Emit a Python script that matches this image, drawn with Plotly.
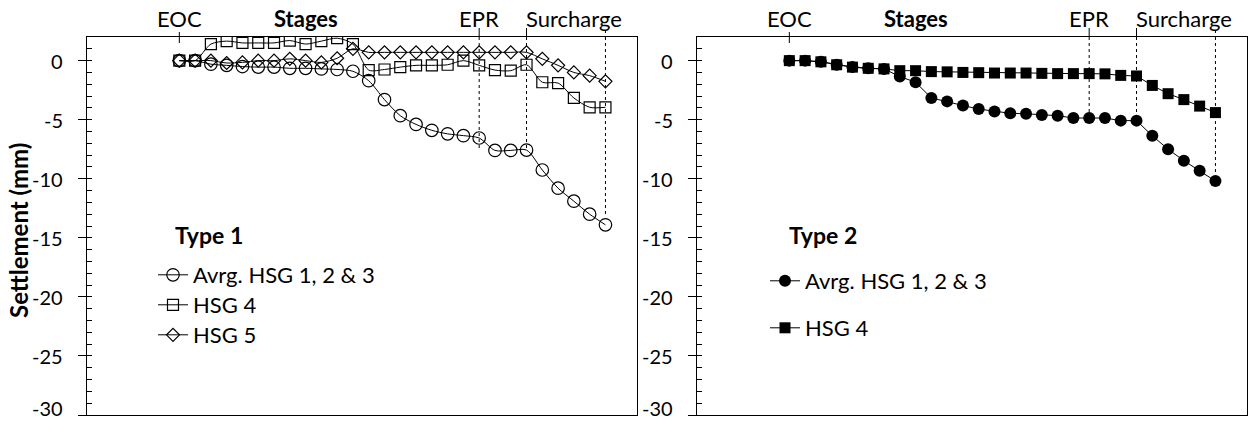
import plotly.graph_objects as go

# ---------------- data ----------------
stage = list(range(28))

t1_avrg = [0, 0, -0.3, -0.4, -0.5, -0.55, -0.55, -0.65, -0.65, -0.7, -0.75, -0.9, -1.7, -3.3,
           -4.66, -5.4, -5.9, -6.2, -6.35, -6.55, -7.6, -7.6, -7.57, -9.26, -10.8, -11.9, -13.0, -13.9]
t1_hsg4 = [0, 0, 1.4, 1.65, 1.5, 1.5, 1.5, 1.7, 1.4, 1.65, 1.9, 1.4, -0.8, -0.75,
           -0.55, -0.4, -0.4, -0.35, 0.0, -0.4, -0.8, -0.85, -0.35, -1.83, -1.9, -3.16, -3.95, -3.95]
t1_hsg5 = [0, 0, 0, -0.2, -0.15, 0, 0, 0.15, 0, -0.15, 0.2, 1.0, 0.7, 0.7,
           0.7, 0.7, 0.7, 0.7, 0.7, 0.7, 0.7, 0.7, 0.7, 0.15, -0.4, -1.0, -1.27, -1.75]

t2_avrg = [0, 0, -0.1, -0.35, -0.55, -0.65, -0.7, -1.35, -1.83, -3.16, -3.45, -3.8, -4.1, -4.3,
           -4.46, -4.5, -4.6, -4.66, -4.86, -4.86, -4.86, -5.08, -5.08, -6.36, -7.5, -8.47, -9.32, -10.2]
t2_hsg4 = [0, 0, -0.1, -0.35, -0.55, -0.65, -0.7, -0.85, -0.85, -0.93, -0.95, -1.0, -1.02, -1.05,
           -1.05, -1.05, -1.08, -1.1, -1.1, -1.1, -1.12, -1.25, -1.3, -2.1, -2.8, -3.3, -3.85, -4.4]

series_names = ["Avrg. HSG 1, 2 & 3", "HSG 4", "HSG 5"]

ytick_vals = [0, -5, -10, -15, -20, -25, -30]
ytick_text = ["0", "-5", "-10", "-15", "-20", "-25", "-30"]

stage_eoc = 0
stage_lines = [19, 22, 27]          # EPR, Surcharge, end of surcharge
left_drop = [-7.5, -7.6, -13.0]
right_drop = [-4.9, -5.1, -9.5]
top_labels = ["EOC", "<b>Stages</b>", "EPR", "Surcharge"]
top_label_x = [0, 8, 19, 25]

# ---------------- layout helpers ----------------
W, H = 1248, 423
FONT = "Lato, sans-serif"


def px(x):
    return x / W


def py(y):
    return 1 - y / H


XR = [-5.85, 29.0]
YR = [-30, 2]
XD1 = [px(87), px(637)]
XD2 = [px(697), px(1247)]
YD = [py(415), py(37)]

fig = go.Figure()


def add(y, name, sym, size, xa, ya, legend, shape, lw):
    fig.add_trace(go.Scatter(
        x=stage, y=y, name=name, mode="lines+markers",
        line=dict(color="black", width=1, shape=shape, smoothing=0.8),
        marker=dict(symbol=sym, size=size, color="black",
                    line=dict(color="black", width=lw)),
        xaxis=xa, yaxis=ya, legend=legend,
    ))


add(t1_avrg, series_names[0], "circle-open", 12.5, "x", "y", "legend", "spline", 1.2)
add(t1_hsg4, series_names[1], "square-open", 11, "x", "y", "legend2", "spline", 1.2)
add(t1_hsg5, series_names[2], "diamond-open", 10, "x", "y", "legend3", "spline", 1.2)
add(t2_avrg, series_names[0], "circle", 12, "x2", "y2", "legend4", "linear", 0)
add(t2_hsg4, series_names[1], "square", 11, "x2", "y2", "legend5", "linear", 0)

# invisible traces to activate the minor-tick overlay axes
for ya, xa in (("y3", "x"), ("y4", "x2")):
    fig.add_trace(go.Scatter(x=[None], y=[None], xaxis=xa, yaxis=ya,
                             showlegend=False, hoverinfo="skip"))

shapes = []
for xa, drops in (("x", left_drop), ("x2", right_drop)):
    # EOC solid tick across top axis
    shapes.append(dict(type="line", xref=xa, yref="paper", x0=stage_eoc, x1=stage_eoc,
                       y0=py(32), y1=py(43), line=dict(color="black", width=1)))
    for i, (sx, d) in enumerate(zip(stage_lines, drops)):
        if i < 2:
            shapes.append(dict(type="line", xref=xa, yref="paper", x0=sx, x1=sx,
                               y0=py(28), y1=py(37), line=dict(color="black", width=1)))
        else:
            shapes.append(dict(type="line", xref=xa, yref="paper", x0=sx, x1=sx,
                               y0=py(30), y1=py(37), line=dict(color="black", width=1, dash="3px,3px")))
        shapes.append(dict(type="line", xref=xa, yref=("y" if xa == "x" else "y2"),
                           x0=sx, x1=sx, y0=YR[1], y1=d,
                           line=dict(color="black", width=1, dash="3px,3px")))

annotations = []
for xa in ("x", "x2"):
    for t, xv in zip(top_labels, top_label_x):
        annotations.append(dict(text=t, xref=xa, yref="paper", x=xv, y=py(19),
                                xanchor="center", yanchor="middle", showarrow=False,
                                font=dict(family=FONT, size=22, color="black")))
# y tick labels drawn as annotations; the bottom one is kept inside the page
for xa, ya in (("x", "y"), ("x2", "y2")):
    for v, t in zip(ytick_vals, ytick_text):
        at_bottom = (v == YR[0])
        annotations.append(dict(text=t, xref=xa + " domain", yref=ya, x=0, y=v,
                                xanchor="right", yanchor=("bottom" if at_bottom else "middle"),
                                xshift=-22, yshift=(-7 if at_bottom else 0), showarrow=False,
                                font=dict(family=FONT, size=20, color="black")))
annotations.append(dict(text="<b>Type 1</b>", xref="paper", yref="paper", x=px(173), y=py(235),
                        xanchor="left", yanchor="middle", showarrow=False,
                        font=dict(family=FONT, size=23, color="black")))
annotations.append(dict(text="<b>Type 2</b>", xref="paper", yref="paper", x=px(787), y=py(235),
                        xanchor="left", yanchor="middle", showarrow=False,
                        font=dict(family=FONT, size=23, color="black")))
annotations.append(dict(text="<b>Settlement (mm)</b>", xref="paper", yref="paper", x=px(18), y=py(231),
                        xanchor="center", yanchor="middle", textangle=-90, showarrow=False,
                        font=dict(family=FONT, size=24, color="black")))

xaxis_common = dict(range=XR, showticklabels=False, ticks="", showgrid=False, zeroline=False,
                    showline=True, linecolor="black", linewidth=1, mirror=True)
yaxis_common = dict(range=YR, tickvals=ytick_vals, ticks="outside", showticklabels=False,
                    ticklen=8, tickcolor="black", tickwidth=1, showgrid=False, zeroline=False,
                    showline=True, linecolor="black", linewidth=1, mirror=True,
                    domain=YD)
minor_common = dict(range=YR, ticks="inside", tick0=0, dtick=1, ticklen=5, tickcolor="black",
                    tickwidth=1, showticklabels=False, showgrid=False, zeroline=False, showline=False)

legend_common = dict(xanchor="left", yanchor="middle", bgcolor="rgba(0,0,0,0)",
                     font=dict(family=FONT, size=22, color="black"), itemwidth=30,
                     borderwidth=0, tracegroupgap=0)

fig.update_layout(
    width=W, height=H, margin=dict(l=0, r=0, t=0, b=0),
    paper_bgcolor="white", plot_bgcolor="white",
    font=dict(family=FONT, color="black"),
    xaxis=dict(domain=XD1, anchor="y", **xaxis_common),
    xaxis2=dict(domain=XD2, anchor="y2", **xaxis_common),
    yaxis=dict(anchor="x", **yaxis_common),
    yaxis2=dict(anchor="x2", **yaxis_common),
    yaxis3=dict(overlaying="y", anchor="x", **minor_common),
    yaxis4=dict(overlaying="y2", anchor="x2", **minor_common),
    legend=dict(x=px(153), y=py(275), **legend_common),
    legend2=dict(x=px(153), y=py(305), **legend_common),
    legend3=dict(x=px(153), y=py(335), **legend_common),
    legend4=dict(x=px(765), y=py(281), **legend_common),
    legend5=dict(x=px(765), y=py(328), **legend_common),
    shapes=shapes, annotations=annotations, showlegend=True,
)

fig.write_html("out.html")
